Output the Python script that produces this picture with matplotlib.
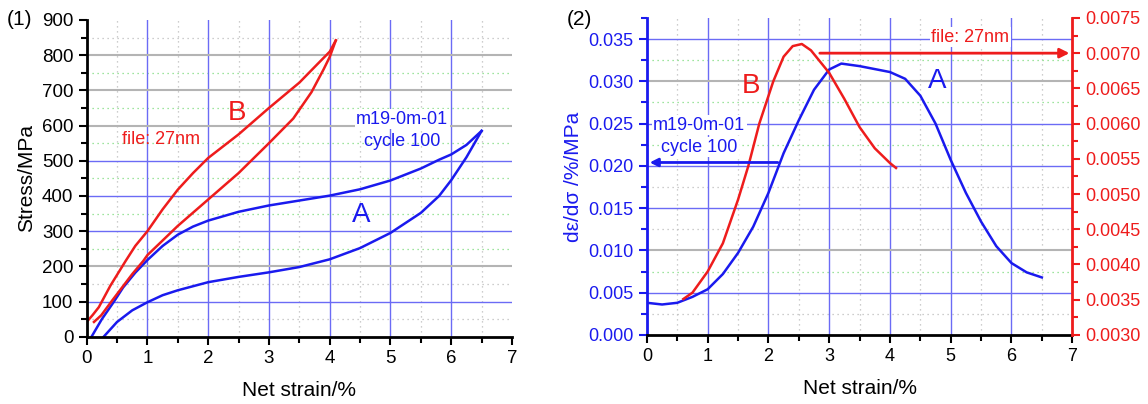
import matplotlib.pyplot as plt
from matplotlib.ticker import MultipleLocator, FormatStrFormatter

plt.rcParams['font.family'] = ['Liberation Sans', 'DejaVu Sans']

# ---- panel (1): stress-strain loops ----
a_load_x = [0.08, 0.25, 0.45, 0.6, 0.8, 1.0, 1.25, 1.5, 1.75, 2.0, 2.5, 3.0, 3.5, 4.0, 4.5, 5.0, 5.5, 5.8, 6.0, 6.25, 6.5]
a_load_y = [0, 50, 100, 140, 182, 218, 258, 290, 313, 330, 355, 373, 387, 401, 419, 444, 478, 503, 518, 545, 585]
a_unload_x = [0.28, 0.5, 0.75, 1.0, 1.25, 1.5, 2.0, 2.5, 3.0, 3.5, 4.0, 4.5, 5.0, 5.5, 5.8, 6.0, 6.25, 6.5]
a_unload_y = [0, 42, 75, 98, 118, 132, 155, 170, 183, 198, 220, 252, 295, 352, 400, 445, 510, 585]

b_load_x = [0.0, 0.1, 0.2, 0.39, 0.64, 0.8, 1.0, 1.25, 1.5, 1.75, 2.0, 2.5, 3.0, 3.5, 3.8, 4.0, 4.1]
b_load_y = [42, 62, 84, 145, 215, 258, 300, 362, 418, 465, 508, 575, 650, 722, 775, 810, 842]
b_unload_x = [0.12, 0.24, 0.42, 0.75, 0.93, 1.0, 1.5, 2.0, 2.5, 3.0, 3.4, 3.7, 3.9, 4.0, 4.1]
b_unload_y = [42, 61, 103, 178, 215, 232, 315, 390, 465, 550, 620, 695, 760, 795, 842]

# ---- panel (2): compliance curves ----
a_dx = [0, 0.25, 0.5, 0.75, 1.0, 1.25, 1.5, 1.75, 2.0, 2.25, 2.5, 2.75, 3.0, 3.2, 3.5, 4.0, 4.25,
        4.5, 4.75, 5.0, 5.25, 5.5, 5.75, 6.0, 6.25, 6.5]
a_dy = [0.0038, 0.0036, 0.0038, 0.0045, 0.0054, 0.0072, 0.0097, 0.0128, 0.0168, 0.0215, 0.0254,
        0.0290, 0.0314, 0.0321, 0.0318, 0.0311, 0.0303, 0.0283, 0.0250, 0.0207, 0.0168, 0.0134,
        0.0105, 0.0085, 0.0074, 0.0068]
b_dx = [0.6, 0.75, 1.0, 1.25, 1.5, 1.67, 1.85, 2.08, 2.25, 2.4, 2.55, 2.7, 3.0, 3.25, 3.5, 3.75, 4.0, 4.1]
b_dy = [0.00351, 0.00360, 0.00390, 0.00430, 0.00492, 0.00540, 0.00600, 0.00660, 0.00695, 0.00710,
        0.00713, 0.00704, 0.00672, 0.00635, 0.00595, 0.00565, 0.00544, 0.00537]

BLUE = '#1a1aee'
RED = '#ee1c1c'
GBLUE = '#6b6bf5'
GGRAY = '#b4b4b4'
GGREEN = '#7fdc7f'
DGRAY = '#bdbdbd'

fig = plt.figure(figsize=(11.48, 4.04), dpi=100)


def draw_grid(ax, xmaj, hblue, hgray, xmin, ymin, green_y):
    for x in xmin:
        ax.axvline(x, color=DGRAY, ls=(0, (1, 3)), lw=0.9, zorder=0)
    for y in ymin:
        c = GGREEN if y in green_y else DGRAY
        ax.axhline(y, color=c, ls=(0, (1, 3)), lw=0.9, zorder=0)
    for x in xmaj:
        ax.axvline(x, color=GBLUE, lw=1.0, zorder=0.5)
    for y in hblue:
        ax.axhline(y, color=GBLUE, lw=1.0, zorder=0.5)
    for y in hgray:
        ax.axhline(y, color=GGRAY, lw=1.5, zorder=0.5)


# panel 1
ax1 = fig.add_axes([0.0755, 0.1665, 0.3705, 0.7840])
ymin1 = [50 + 100 * i for i in range(9)]
draw_grid(ax1, range(1, 7), [100, 300, 400, 500], [200, 600, 700, 800],
          [0.5 + i for i in range(7)], ymin1, [250, 350, 450, 550, 650, 750])
ax1.plot(a_load_x, a_load_y, color=BLUE, lw=1.8)
ax1.plot(a_unload_x, a_unload_y, color=BLUE, lw=1.8)
ax1.plot(b_load_x, b_load_y, color=RED, lw=1.8)
ax1.plot(b_unload_x, b_unload_y, color=RED, lw=1.8)
ax1.set_xlim(0, 7)
ax1.set_ylim(0, 900)
ax1.spines[['top', 'right']].set_visible(False)
for s in ['left', 'bottom']:
    ax1.spines[s].set_linewidth(2)
ax1.xaxis.set_major_locator(MultipleLocator(1))
ax1.xaxis.set_minor_locator(MultipleLocator(0.5))
ax1.yaxis.set_major_locator(MultipleLocator(100))
ax1.yaxis.set_minor_locator(MultipleLocator(50))
ax1.tick_params(which='major', direction='out', length=6, width=1.5, labelsize=13.5)
ax1.tick_params(which='minor', direction='out', length=4, width=1.5)
ax1.set_xlabel('Net strain/%', fontsize=15, labelpad=10)
ax1.set_ylabel('Stress/MPa', fontsize=15, labelpad=4)
ax1.text(2.47, 637, 'B', color=RED, fontsize=20, ha='center', va='center')
ax1.text(4.52, 345, 'A', color=BLUE, fontsize=20, ha='center', va='center')
ax1.text(1.22, 561, 'file: 27nm', color=RED, fontsize=13, ha='center', va='center')
ax1.text(5.19, 618, 'm19-0m-01', color=BLUE, fontsize=13, ha='center', va='center',
         bbox=dict(facecolor='white', edgecolor='none', pad=1))
ax1.text(5.19, 554, 'cycle 100', color=BLUE, fontsize=13, ha='center', va='center')
fig.text(0.006, 0.952, '(1)', fontsize=15, va='center')

# panel 2
ax2 = fig.add_axes([0.5635, 0.1710, 0.3705, 0.7846])
ymin2 = [0.0025 + 0.005 * i for i in range(7)]
draw_grid(ax2, range(1, 7), [0.005, 0.015, 0.020, 0.025, 0.035], [0.010, 0.030],
          [0.5 + i for i in range(7)], ymin2, [0.0075, 0.0175, 0.0225, 0.0275, 0.0325])
ax2.plot(a_dx, a_dy, color=BLUE, lw=1.8)
ax2.set_xlim(0, 7)
ax2.set_ylim(0, 0.0375)
ax2.spines[['top', 'right']].set_visible(False)
ax2.spines['left'].set_color(BLUE)
ax2.spines['left'].set_linewidth(2)
ax2.spines['bottom'].set_linewidth(2)
ax2.xaxis.set_major_locator(MultipleLocator(1))
ax2.xaxis.set_minor_locator(MultipleLocator(0.5))
ax2.yaxis.set_major_locator(MultipleLocator(0.005))
ax2.yaxis.set_minor_locator(MultipleLocator(0.0025))
ax2.yaxis.set_major_formatter(FormatStrFormatter('%.3f'))
ax2.tick_params(which='major', direction='out', length=6, width=1.5, labelsize=13)
ax2.tick_params(which='minor', direction='out', length=4, width=1.5)
ax2.tick_params(axis='y', which='both', color=BLUE, labelcolor=BLUE)
ax2.set_xlabel('Net strain/%', fontsize=15, labelpad=10)
ax2.set_ylabel('dε/dσ /%/MPa', fontsize=15, color=BLUE, labelpad=4)

ax3 = ax2.twinx()
ax3.plot(b_dx, b_dy, color=RED, lw=1.8)
ax3.set_ylim(0.003, 0.0075)
for s in ['top', 'left', 'bottom']:
    ax3.spines[s].set_visible(False)
ax3.spines['right'].set_color(RED)
ax3.spines['right'].set_linewidth(2)
ax3.yaxis.set_major_locator(MultipleLocator(0.0005))
ax3.yaxis.set_minor_locator(MultipleLocator(0.00025))
ax3.yaxis.set_major_formatter(FormatStrFormatter('%.4f'))
ax3.tick_params(which='major', direction='out', length=6, width=1.5, labelsize=13, color=RED, labelcolor=RED)
ax3.tick_params(which='minor', direction='out', length=4, width=1.5, color=RED)


def left_to_right(v):
    # convert a left-axis value to the twin (right) axis scale
    return 0.003 + v / 0.0375 * 0.0045


ax3.annotate('', xy=(7, 0.0070), xytext=(2.8, 0.0070),
             arrowprops=dict(arrowstyle='-|>', color=RED, lw=2, mutation_scale=14))
ax3.text(1.71, left_to_right(0.0294), 'B', color=RED, fontsize=20, ha='center', va='center')
ax3.text(4.77, left_to_right(0.0300), 'A', color=BLUE, fontsize=20, ha='center', va='center')
ax3.text(5.32, left_to_right(0.0352), 'file: 27nm', color=RED, fontsize=13, ha='center',
         va='center', bbox=dict(facecolor='white', edgecolor='none', pad=1))
ax3.text(0.86, left_to_right(0.0248), 'm19-0m-01', color=BLUE, fontsize=13, ha='center',
         va='center', bbox=dict(facecolor='white', edgecolor='none', pad=1))
ax3.text(0.86, left_to_right(0.0222), 'cycle 100', color=BLUE, fontsize=13, ha='center',
         va='center', bbox=dict(facecolor='white', edgecolor='none', pad=1))
ax3.annotate('', xy=(0.0, left_to_right(0.0204)), xytext=(2.2, left_to_right(0.0204)),
             arrowprops=dict(arrowstyle='-|>', color=BLUE, lw=2, mutation_scale=12))
fig.text(0.494, 0.952, '(2)', fontsize=15, va='center')

fig.savefig('out.png', dpi=100)
